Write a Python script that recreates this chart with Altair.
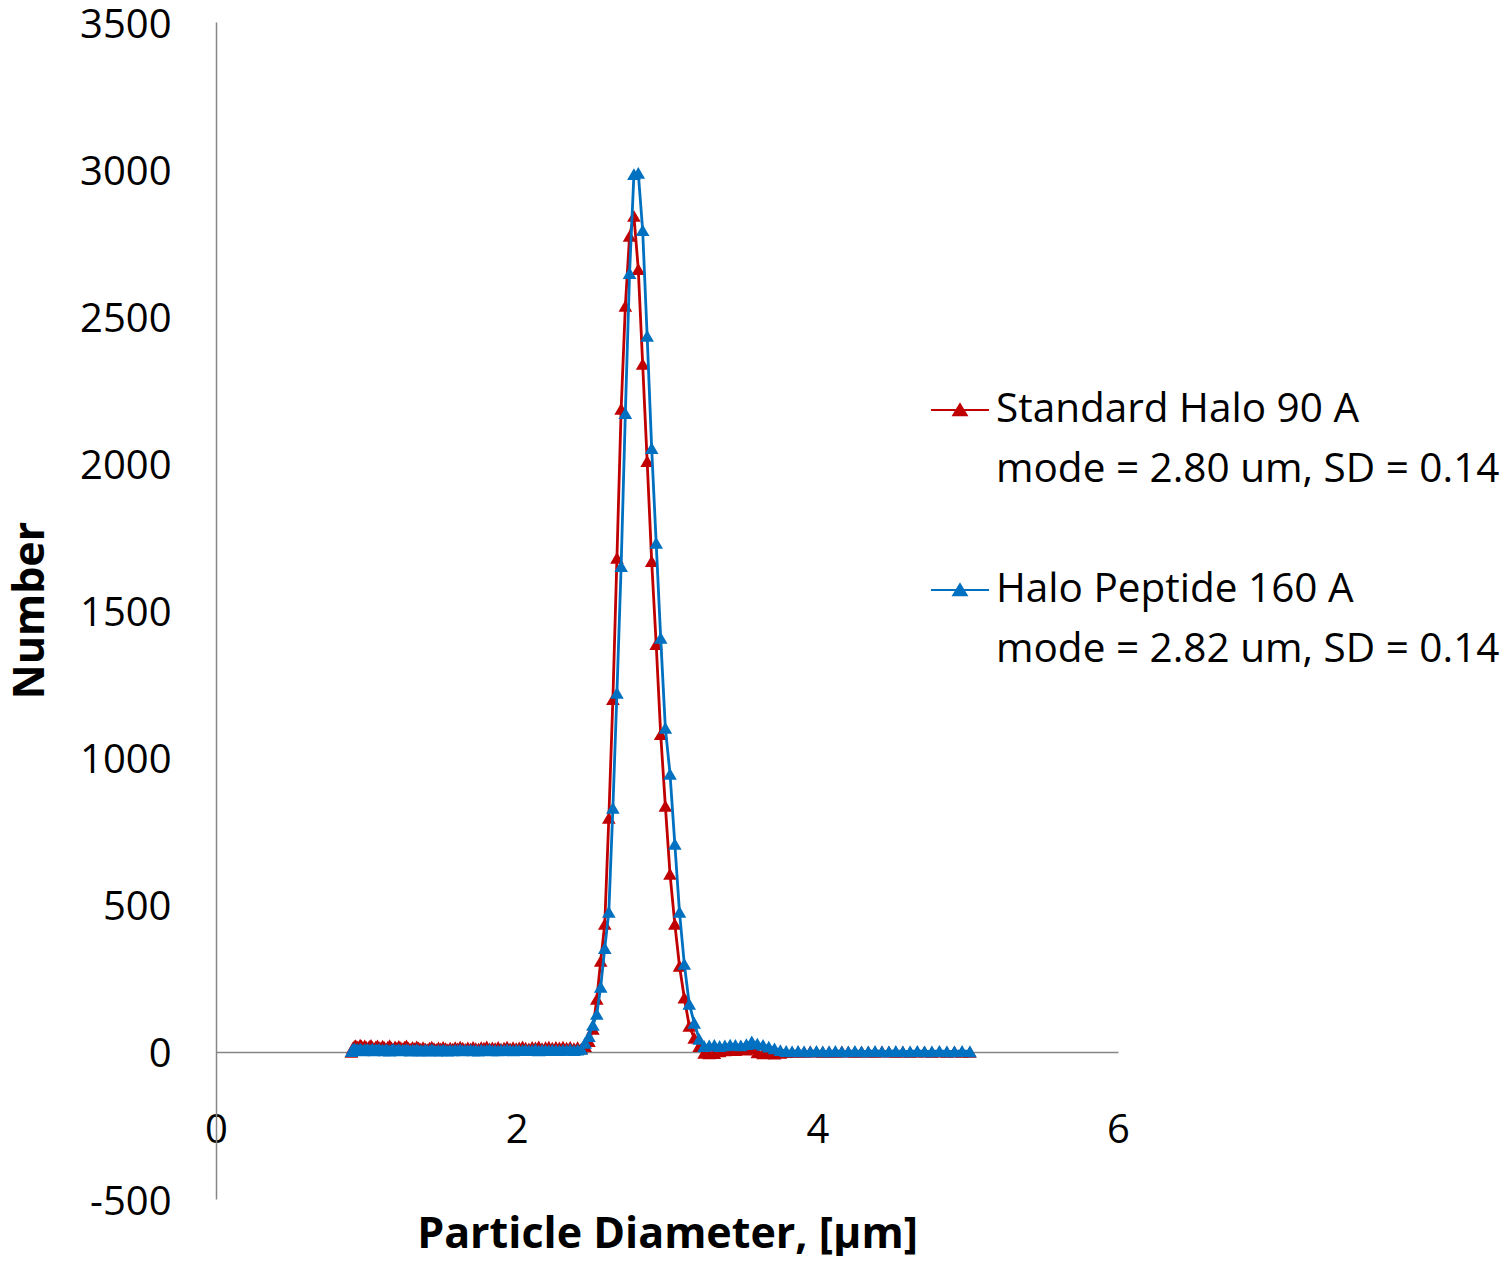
import altair as alt
import pandas as pd

# Particle diameter bins (um)
diameter = [
    0.901, 0.910, 0.920, 0.929, 0.939, 0.949, 0.959, 0.968, 0.979, 0.989,
    0.999, 1.009, 1.020, 1.031, 1.041, 1.052, 1.063, 1.074, 1.085, 1.097,
    1.108, 1.119, 1.131, 1.143, 1.155, 1.167, 1.179, 1.191, 1.204, 1.216,
    1.229, 1.242, 1.254, 1.267, 1.281, 1.294, 1.307, 1.321, 1.335, 1.348,
    1.362, 1.377, 1.391, 1.405, 1.420, 1.435, 1.450, 1.465, 1.480, 1.495,
    1.511, 1.527, 1.542, 1.558, 1.575, 1.591, 1.607, 1.624, 1.641, 1.658,
    1.675, 1.693, 1.710, 1.728, 1.746, 1.764, 1.782, 1.801, 1.820, 1.838,
    1.857, 1.877, 1.896, 1.916, 1.936, 1.956, 1.976, 1.997, 2.017, 2.039,
    2.060, 2.081, 2.103, 2.125, 2.147, 2.169, 2.192, 2.214, 2.237, 2.261,
    2.284, 2.308, 2.332, 2.356, 2.381, 2.405, 2.430, 2.456, 2.481, 2.507,
    2.533, 2.559, 2.586, 2.613, 2.640, 2.667, 2.695, 2.723, 2.751, 2.780,
    2.809, 2.838, 2.868, 2.898, 2.928, 2.958, 2.989, 3.020, 3.052, 3.083,
    3.115, 3.148, 3.181, 3.214, 3.247, 3.281, 3.315, 3.350, 3.385, 3.420,
    3.455, 3.491, 3.528, 3.564, 3.601, 3.639, 3.677, 3.715, 3.754, 3.793,
    3.832, 3.872, 3.912, 3.953, 3.994, 4.036, 4.078, 4.120, 4.163, 4.206,
    4.250, 4.294, 4.339, 4.384, 4.430, 4.476, 4.522, 4.569, 4.617, 4.665,
    4.713, 4.762, 4.812, 4.862, 4.912, 4.963, 5.015,
]

# Counts, Standard Halo 90 A
standard_90 = [
    0, 14, 20, 23, 19, 16, 25, 21, 15, 22,
    18, 13, 20, 24, 17, 12, 19, 22, 16, 14,
    21, 17, 12, 18, 23, 15, 11, 19, 14, 20,
    16, 12, 18, 22, 14, 10, 17, 13, 19, 15,
    11, 16, 12, 9, 14, 18, 13, 10, 15, 12,
    17, 13, 9, 14, 11, 16, 12, 18, 14, 10,
    15, 12, 17, 13, 11, 16, 14, 19, 12, 15,
    13, 17, 11, 14, 18, 12, 16, 13, 15, 19,
    14, 12, 17, 15, 19, 13, 16, 18, 14, 17,
    15, 18, 14, 17, 13, 16, 12, 20, 37, 78,
    180, 309, 435, 795, 1199, 1679, 2185, 2535, 2773, 2841,
    2660, 2338, 2008, 1668, 1386, 1080, 836, 605, 435, 292,
    184, 88, 48, 20, -3, -5, -4, 2, 5, 8,
    6, 10, 8, 12, -2, -5, -4, -6, -3, -1,
    0, 1, 0, 2, 1, 0, 1, 0, 2, 1,
    0, 1, 1, 0, 2, 1, 0, 1, 0, 1,
    1, 0, 1, 0, 1, 0, 0,
]

# Counts, Halo Peptide 160 A
peptide_160 = [
    3, 9, 12, 7, 10, 6, 11, 8, 5, 9,
    7, 10, 6, 8, 11, 5, 9, 7, 10, 6,
    8, 5, 9, 7, 4, 8, 10, 6, 7, 9,
    5, 8, 6, 9, 7, 4, 8, 6, 9, 5,
    7, 4, 8, 6, 5, 9, 6, 4, 7, 5,
    8, 6, 4, 7, 5, 8, 6, 9, 5, 7,
    6, 8, 5, 7, 4, 8, 6, 7, 9, 5,
    7, 5, 8, 6, 9, 7, 5, 8, 6, 7,
    8, 6, 7, 9, 5, 8, 7, 6, 8, 7,
    6, 8, 7, 9, 6, 8, 10, 31, 54, 92,
    129, 221, 353, 476, 829, 1220, 1651, 2171, 2647, 2983,
    2987, 2793, 2433, 2052, 1730, 1407, 1101, 945, 707, 476,
    299, 163, 99, 44, 20, 22, 24, 20, 22, 25,
    24, 22, 26, 36, 28, 24, 18, 12, 6, 3,
    2, 3, 2, 2, 3, 2, 2, 3, 2, 2,
    3, 2, 2, 3, 2, 2, 3, 2, 2, 3,
    2, 2, 3, 2, 2, 3, 2,
]

series_names = ["Standard Halo 90 A", "Halo Peptide 160 A"]
series_notes = ["mode = 2.80 um, SD = 0.14", "mode = 2.82 um, SD = 0.14"]
series_colors = ["#C00000", "#0070C0"]
x_ticks = [0, 2, 4, 6]
y_ticks = [-500, 0, 500, 1000, 1500, 2000, 2500, 3000, 3500]

assert len(diameter) == len(standard_90) == len(peptide_160)

FONT = "Open Sans"
GRAY = "#868686"

# legend rows: name, note, spacer, name, note
legend_domain = [series_names[0], series_notes[0], " ", series_names[1], series_notes[1]]
legend_range = [series_colors[0], "transparent", "transparent", series_colors[1], "transparent"]
color_scale = alt.Scale(domain=legend_domain, range=legend_range)

legend = alt.Legend(
    title=None,
    orient="none",
    legendX=714,
    legendY=358,
    padding=0,
    symbolType="M-1,0L1,0M0,-0.2L0.23,0.18L-0.23,0.18Z",
    symbolSize=3364,
    symbolStrokeWidth=2,
    symbolOpacity=1,
    labelFont=FONT,
    labelFontSize=40.5,
    labelColor="black",
    labelLimit=800,
    labelOffset=6,
    rowPadding=9,
)

x_enc = alt.X(
    "d:Q",
    scale=alt.Scale(domain=[0, 6], nice=False, zero=False),
    axis=alt.Axis(
        values=x_ticks,
        labelExpr="datum.value + ''",
        grid=False,
        ticks=False,
        tickSize=0,
        offset=-147,
        domainColor=GRAY,
        domainWidth=1.5,
        labelFont=FONT,
        labelFontSize=40,
        labelColor="black",
        labelPadding=58,
        labelFlush=False,
        labelBaseline="top",
        title="Particle Diameter, [µm]",
        titleFont=FONT,
        titleFontSize=43,
        titleFontWeight="bold",
        titleColor="black",
        titleX=451,
        titleY=195,
        titleBaseline="alphabetic",
        titleAlign="center",
    ),
)

y_enc = alt.Y(
    "n:Q",
    scale=alt.Scale(domain=[-500, 3500], nice=False, zero=False),
    axis=alt.Axis(
        values=y_ticks,
        labelExpr="datum.value + ''",
        grid=False,
        ticks=False,
        tickSize=0,
        domainColor=GRAY,
        domainWidth=1.5,
        labelFont=FONT,
        labelFontSize=40,
        labelColor="black",
        labelPadding=45,
        labelOffset=3,
        labelOverlap=False,
        title="Number",
        titleFont=FONT,
        titleFontSize=43,
        titleFontWeight="bold",
        titleColor="black",
        titleAngle=270,
        titleX=-173,
        titleY=588,
        titleAlign="center",
        titleBaseline="alphabetic",
    ),
)


def series_layer(values, name):
    df = pd.DataFrame({"d": diameter, "n": values, "series": name})
    base = alt.Chart(df).encode(
        x=x_enc,
        y=y_enc,
        color=alt.Color("series:N", scale=color_scale, legend=legend),
        order=alt.Order("d:Q"),
    )
    line = base.mark_line(strokeWidth=2.8)
    pts = base.mark_point(shape="triangle-up", filled=True, size=185, opacity=1)
    return line + pts


chart = alt.layer(
    series_layer(standard_90, series_names[0]),
    series_layer(peptide_160, series_names[1]),
).properties(
    width=902,
    height=1177,
    padding={"left": 208, "top": 14, "right": 382, "bottom": 57},
    autosize=alt.AutoSizeParams(type="none"),
    background="white",
).configure(font=FONT).configure_view(stroke="transparent", strokeWidth=0)

chart.save("out.html", embed_options={"renderer": "svg", "actions": False})
